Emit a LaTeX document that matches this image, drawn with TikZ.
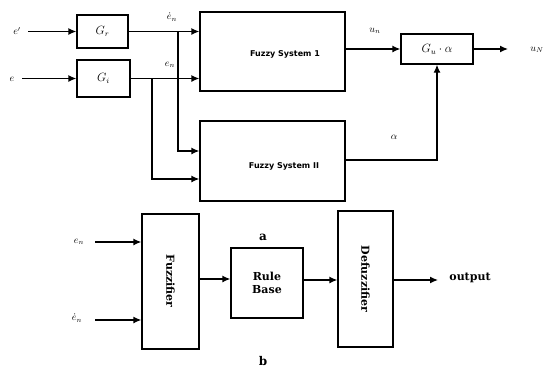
\documentclass[tikz,border=0pt]{standalone}
\usepackage{fontspec}
\setmainfont{DejaVu Serif}
\newfontfamily\fsysfont{DejaVu Sans}
\usetikzlibrary{arrows.meta}
\begin{document}
\begin{tikzpicture}[x=1pt,y=-1pt,
  blk/.style={draw, line width=1.3pt, inner sep=0pt},
  arr/.style={line width=1.3pt, -{Latex[length=8pt,width=7pt]}},
  lbl/.style={inner sep=0pt, font=\normalsize},
  btxt/.style={inner sep=0pt, font=\fontsize{11}{13}\selectfont\bfseries}]
\useasboundingbox (0,0) rectangle (546,367);
% ---- part a ----
\node[blk, minimum width=51pt, minimum height=33pt, font=\large] (gr) at (102.5,31.5) {$G_r$};
\node[blk, minimum width=53pt, minimum height=37pt, font=\large] (gi) at (103.5,78.5) {$G_i$};
\node[blk, minimum width=145pt, minimum height=79pt] (fs1) at (272.5,51.5) {};
\node[inner sep=0pt, font=\fsysfont\fontsize{8}{9}\selectfont\bfseries] (fs1t) at (285,54) {Fuzzy System 1};
\node[blk, minimum width=145pt, minimum height=80pt] (fs2) at (272.5,161) {};
\node[inner sep=0pt, font=\fsysfont\fontsize{8}{9}\selectfont\bfseries] (fs2t) at (284,166) {Fuzzy System II};
\node[blk, minimum width=72pt, minimum height=30pt, font=\large] (gu) at (437,49) {$G_u\cdot\alpha$};
\node[lbl] (ein1) at (17,31) {$e'$};
\node[lbl] (ein2) at (12,79) {$e$};
\coordinate (s1) at (28,31.5);
\coordinate (s2) at (22,78.5);
\draw[arr] (s1) -- (gr.west);
\draw[arr] (s2) -- (gi.west);
\draw[arr] (gr.east) -- (gr.east -| fs1.west);
\draw[arr] (gi.east) -- (gi.east -| fs1.west);
\node[lbl] (l1) at (172,17) {$\dot e_n$};
\node[lbl] (l2) at (170,65) {$e_n$};
\coordinate (b1) at (178,31.5);
\coordinate (b2) at (152,78.5);
\draw[arr] (b1) |- ([yshift=10pt]fs2.west);
\draw[arr] (b2) |- ([yshift=-18pt]fs2.west);
\draw[arr] (gu.west -| fs1.east) -- (gu.west);
\node[lbl] (un) at (375,31) {$u_n$};
\coordinate (o1) at (508,49);
\draw[arr] (gu.east) -- (o1);
\node[lbl] (uN) at (537,50) {$u_N$};
\draw[arr] ([yshift=1pt]fs2.east) -| (gu.south);
\node[lbl] (al) at (394,137) {$\alpha$};
% ---- part b ----
\node[blk, minimum width=57pt, minimum height=135pt] (fz) at (170.5,281.5) {};
\node[btxt, rotate=-90] (fzt) at (170.5,281) {Fuzzifier};
\node[blk, btxt, minimum width=72pt, minimum height=70pt, align=center] (rb) at (267,283) {Rule\\Base};
\node[blk, minimum width=55pt, minimum height=136pt] (dz) at (365.5,279) {};
\node[btxt, rotate=-90] (dzt) at (365.5,279) {Defuzzifier};
\node[lbl] (lb1) at (79,242) {$e_n$};
\node[lbl] (lb2) at (77,318) {$\dot{e}_n$};
\coordinate (t1) at (95,242);
\coordinate (t2) at (95,320);
\draw[arr] (t1) -- (t1 -| fz.west);
\draw[arr] (t2) -- (t2 -| fz.west);
\draw[arr] (fz.east |- 0,279) -- (rb.west |- 0,279);
\draw[arr] (rb.east |- 0,280) -- (dz.west |- 0,280);
\coordinate (o2) at (438,280);
\draw[arr] (dz.east |- 0,280) -- (o2);
\node[btxt] (out) at (470,278) {output};
\node[inner sep=0pt, font=\fontsize{12}{14}\selectfont\bfseries] (la) at (263,237) {a};
\node[inner sep=0pt, font=\fontsize{12}{14}\selectfont\bfseries] (lbb) at (263,361) {b};
\end{tikzpicture}
\end{document}
